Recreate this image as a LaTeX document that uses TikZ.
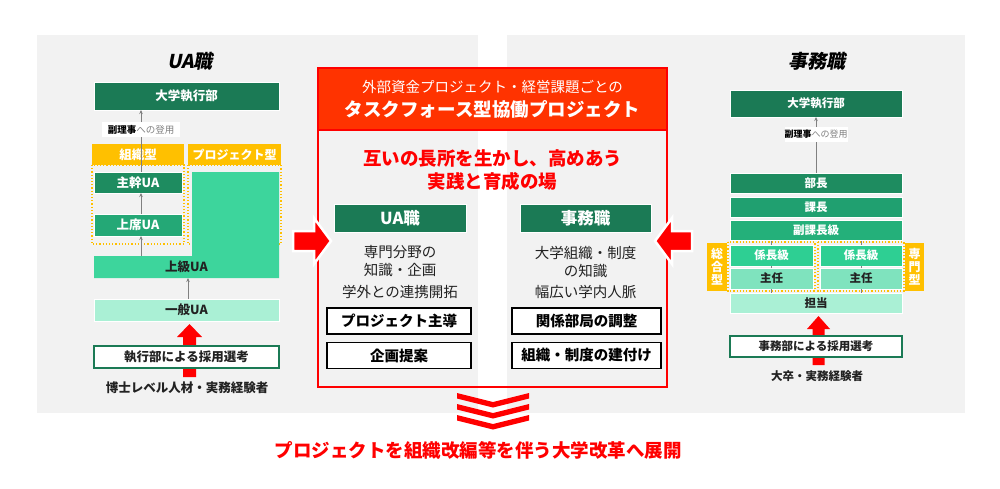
\documentclass[tikz,border=0pt]{standalone}
\usepackage{fontspec}
\setmainfont{Noto Sans CJK JP}
\newfontfamily\jpslant{Noto Sans CJK JP}[FakeSlant=0.2]
\usetikzlibrary{arrows.meta}
\definecolor{gA}{HTML}{1B7A55}
\definecolor{gB}{HTML}{1E8C60}
\definecolor{gC}{HTML}{24A876}
\definecolor{gD}{HTML}{3DD59C}
\definecolor{gE}{HTML}{AAF0D5}
\definecolor{rA}{HTML}{1E8C60}
\definecolor{rB}{HTML}{20A070}
\definecolor{rC}{HTML}{24B07A}
\definecolor{rD}{HTML}{2ECF93}
\definecolor{rE}{HTML}{7FE3BE}
\definecolor{yl}{HTML}{FFC000}
\definecolor{bgc}{HTML}{F2F2F2}
\definecolor{hdr}{HTML}{FF3300}
\definecolor{rd}{HTML}{FF0000}
\definecolor{gl}{HTML}{808080}
\definecolor{tx}{HTML}{222222}
\begin{document}
\begin{tikzpicture}[x=1pt,y=-1pt,
  box/.style={inner sep=0pt, outer sep=0pt, align=center},
  lvl/.style={box, draw=white, line width=0.8pt, text=white, font=\bfseries\fontsize{12.5}{15}\selectfont},
  lvlk/.style={lvl, text=tx},
  lvlr/.style={box, draw=white, line width=0.8pt, text=white, font=\bfseries\fontsize{11.5}{14}\selectfont},
  lvlrk/.style={lvlr, text=tx},
  ylw/.style={box, fill=yl, text=white, font=\bfseries\fontsize{12.5}{15}\selectfont},
  dotbox/.style={draw=yl, line width=1.2pt, dotted},
  lbl/.style={box, fill=white, font=\fontsize{9.5}{11}\selectfont},
  garrow/.style={draw=gl, line width=1pt, -{Stealth[length=4pt,width=3.5pt]}},
  gline/.style={draw=gl, line width=1pt},
  rec/.style={box, fill=white, draw=gA, line width=1.5pt, text=tx, font=\bfseries\fontsize{12.5}{15}\selectfont},
  src/.style={box, text=tx, font=\bfseries\fontsize{12.5}{15}\selectfont},
  ttl/.style={box, text=black, font=\jpslant\bfseries\fontsize{19}{22}\selectfont},
  desc/.style={box, text=tx, font=\fontsize{14.5}{17}\selectfont},
  bbox/.style={box, fill=white, draw=black, line width=1.8pt, text=black, font=\bfseries\fontsize{14.5}{17}\selectfont},
  rtxt/.style={box, text=rd, font=\bfseries\fontsize{18.5}{22}\selectfont},
  bigarrow/.style={fill=rd, draw=white, line width=2.5pt, line join=miter}
]
\fill[white] (0,0) rectangle (1000,488);
\useasboundingbox (0,0) rectangle (1000,488);
\fill[bgc] (37,35) rectangle (478,413);
\fill[bgc] (507,35) rectangle (965,413);

% ---------------- left panel ----------------
\node[ttl] (tL) at (190,61) {UA職};
\node[lvl, fill=gA, minimum width=185, minimum height=28] (execL) at (186.5,96) {大学執行部};
\node[lbl, minimum width=78, minimum height=15] (subL) at (141,129.5) {\textbf{副理事}\textcolor{gl}{への登用}};
\node[ylw, minimum width=92, minimum height=21] (orgL) at (138,154.5) {組織型};
\node[ylw, minimum width=93, minimum height=21, font=\bfseries\fontsize{12}{14}\selectfont] (prjL) at (234.5,154.5) {プロジェクト型};
\draw[dotbox] (92,165) rectangle (184,244);
\draw[dotbox] (188,165) rectangle (281,244);
\fill[gD] (192,172) -- (279,172) -- (279,278) -- (94,278) -- (94,256) -- (192,256) -- cycle;
\node[lvlk, draw=none, minimum width=185, minimum height=22] (advL) at (186.5,267) {上級UA};
\node[lvl, fill=gB, minimum width=88, minimum height=21] (chiefL) at (138,182.5) {主幹UA};
\node[lvl, fill=gC, minimum width=88, minimum height=22] (seniorL) at (138,225) {上席UA};
\node[lvlk, fill=gE, minimum width=185, minimum height=22] (genL) at (186.5,310) {一般UA};
\draw[garrow] (subL.north) -- (subL.north |- execL.south);
\draw[gline] (chiefL.north -| subL.south) -- (subL.south);
\draw[garrow] (seniorL.north -| subL.south) -- (chiefL.south -| subL.south);
\draw[garrow] (advL.north -| subL.south) -- (seniorL.south -| subL.south);
\draw[garrow] (genL.north -| prjL.west) -- (advL.south -| prjL.west);
\fill[rd] (183,377) -- (183,337) -- (177,337) -- (189.5,324) -- (202,337) -- (196,337) -- (196,377) -- cycle;
\node[rec, minimum width=185, minimum height=22] (recL) at (186.5,357) {執行部による採用選考};
\node[src] (srcL) at (187,388) {博士レベル人材・実務経験者};

% ---------------- centre ----------------
\node[box, fill=hdr, minimum width=349, minimum height=62] (hdrbox) at (492.5,99) {};
\node[draw=rd, line width=2pt, inner sep=0pt, minimum width=349, minimum height=319] (proj) at (492.5,227.5) {};
\draw[rd, line width=2pt] (hdrbox.south west) -- (hdrbox.south east);
\node[box, text=white, font=\fontsize{14.5}{17}\selectfont] (h1) at (492.5,87) {外部資金プロジェクト・経営課題ごとの};
\node[box, text=white, font=\bfseries\fontsize{18.5}{22}\selectfont] (h2) at (492.5,109) {タスクフォース型協働プロジェクト};
\node[rtxt] (m1) at (492.5,158) {互いの長所を生かし、高めあう};
\node[rtxt] (m2) at (492.5,181) {実践と育成の場};
\node[lvl, fill=gA, minimum width=132, minimum height=28, font=\bfseries\fontsize{16.5}{19}\selectfont] (uaH) at (400,218) {UA職};
\node[lvl, fill=gA, minimum width=131, minimum height=28, font=\bfseries\fontsize{16.5}{19}\selectfont] (jmH) at (585.5,218) {事務職};
\node[desc] (d1) at (400,261.5) {専門分野の\\[1pt]知識・企画};
\node[desc] (d2) at (400,292) {学外との連携開拓};
\node[desc] (d3) at (585.5,261.5) {大学組織・制度\\[1pt]の知識};
\node[desc] (d4) at (585.5,292) {幅広い学内人脈};
\node[bbox, minimum width=144, minimum height=26] (b1) at (399,321) {プロジェクト主導};
\node[bbox, minimum width=144, minimum height=26] (b2) at (399,355.5) {企画提案};
\node[bbox, minimum width=149, minimum height=26] (b3) at (586.5,321) {関係部局の調整};
\node[bbox, minimum width=149, minimum height=26] (b4) at (586.5,355.5) {組織・制度の建付け};
\draw[bigarrow] (293,231) -- (314,231) -- (314,218) -- (331,241) -- (314,264) -- (314,251) -- (293,251) -- cycle;
\draw[bigarrow] (692,231) -- (672,231) -- (672,218) -- (655,241) -- (672,264) -- (672,251) -- (692,251) -- cycle;
\foreach \d in {0,11,22}{
  \fill[rd] (457,393+\d) -- (493,402+\d) -- (529,393+\d) -- (529,398.5+\d) -- (493,407.5+\d) -- (457,398.5+\d) -- cycle;
}
\node[rtxt] (fin) at (478,450) {プロジェクトを組織改編等を伴う大学改革へ展開};

% ---------------- right panel ----------------
\node[ttl] (tR) at (817,61) {事務職};
\node[lvlr, fill=gA, minimum width=172, minimum height=27] (execR) at (816,103.5) {大学執行部};
\node[lbl, minimum width=63, minimum height=15, font=\fontsize{9}{11}\selectfont] (subR) at (816,134.5) {\textbf{副理事}\textcolor{gl}{への登用}};
\node[lvlr, fill=rA, minimum width=172, minimum height=20] (buR) at (816,183) {部長};
\node[lvlr, fill=rB, minimum width=172, minimum height=20] (kaR) at (816,207) {課長};
\node[lvlr, fill=rC, minimum width=172, minimum height=20] (fkR) at (816,230.5) {副課長級};
\draw[dotbox] (728,242) rectangle (815,291);
\draw[dotbox] (818,242) rectangle (904,291);
\node[lvlr, fill=rD, minimum width=83, minimum height=21] (kkL) at (771.5,255.5) {係長級};
\node[lvlr, fill=rD, minimum width=82, minimum height=21] (kkR) at (861,255.5) {係長級};
\node[lvlrk, fill=rE, minimum width=83, minimum height=21] (snL) at (771.5,278.5) {主任};
\node[lvlrk, fill=rE, minimum width=82, minimum height=21] (snR) at (861,278.5) {主任};
\node[lvlrk, fill=gE, minimum width=172, minimum height=20] (tnR) at (816,303) {担当};
\node[ylw, minimum width=20, minimum height=48, font=\bfseries\fontsize{12}{13}\selectfont] (sgR) at (717,267) {総\\合\\型};
\node[ylw, minimum width=19, minimum height=48, font=\bfseries\fontsize{12}{13}\selectfont] (smR) at (914.5,267) {専\\門\\型};
\draw[garrow] (subR.north) -- (execR.south);
\draw[gline] (buR.north) -- (subR.south);
\foreach \n in {kkL,kkR}{
  \draw[gline, line width=0.8pt] (\n.north) -- (\n.north |- fkR.south);
}
\foreach \a/\b in {snL/kkL,snR/kkR}{
  \draw[gline, line width=0.8pt] (\a.north) -- (\b.south);
  \draw[gline, line width=0.8pt] (\a.south) -- (\a.south |- tnR.north);
}
\fill[rd] (812.5,365) -- (812.5,329) -- (807,329) -- (818.5,316) -- (830,329) -- (824.5,329) -- (824.5,365) -- cycle;
\node[rec, minimum width=172, minimum height=21, font=\bfseries\fontsize{11.5}{14}\selectfont] (recR) at (816,346.5) {事務部による採用選考};
\node[src, font=\bfseries\fontsize{11.5}{14}\selectfont] (srcR) at (817,376) {大卒・実務経験者};
\end{tikzpicture}
\end{document}
